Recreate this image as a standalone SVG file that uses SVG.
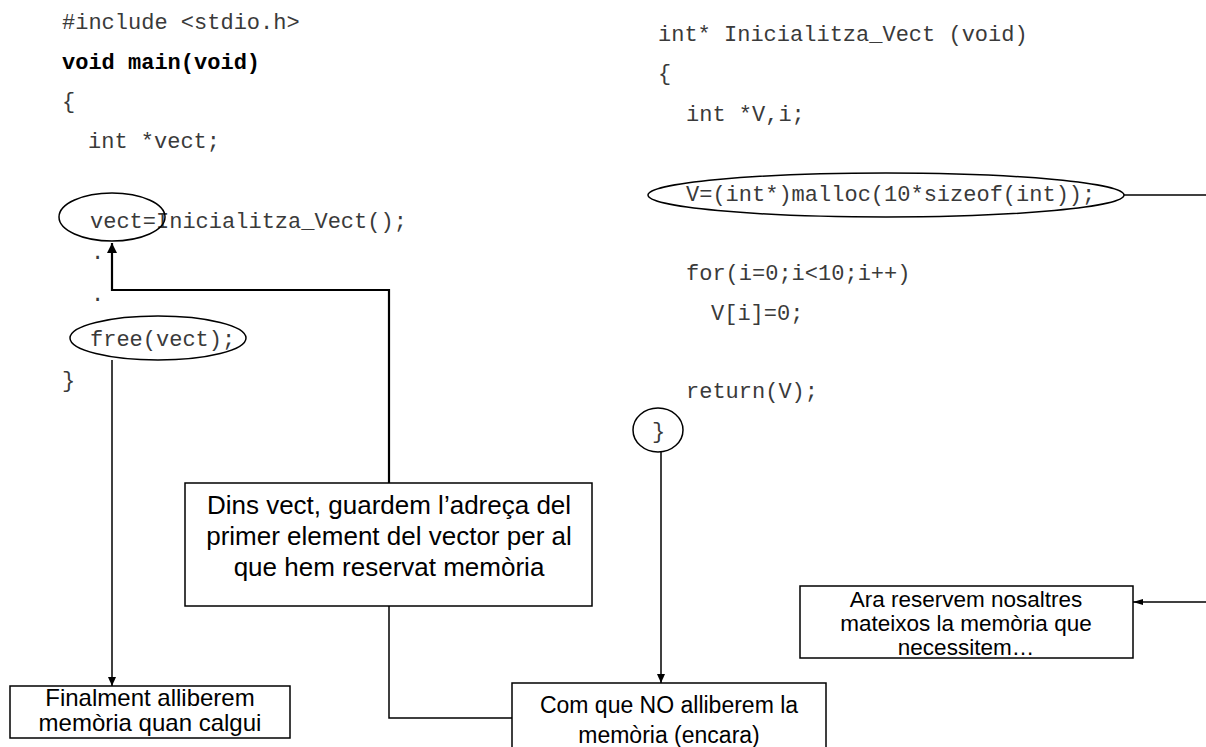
<svg xmlns="http://www.w3.org/2000/svg" width="1206" height="747" viewBox="0 0 1206 747">
<style>
.code{font-family:"Liberation Mono","Courier New",monospace;font-size:22px;fill:#3a3a3a}
.bold{font-weight:bold;fill:#000}
.box{fill:#fff;stroke:#000;stroke-width:1.5}
.lbl{font-family:"Liberation Sans",Arial,sans-serif;fill:#000;text-anchor:middle}
.ell{fill:none;stroke:#000;stroke-width:1.5}
.conn{fill:none;stroke:#000;stroke-width:1.5}
.thick{stroke-width:2.2}
</style>
<defs>
<marker id="arr" markerUnits="userSpaceOnUse" markerWidth="10" markerHeight="10" refX="9" refY="4" orient="auto"><path d="M0,0 L9,4 L0,8 z" fill="#000"/></marker>
<marker id="arrBig" markerUnits="userSpaceOnUse" markerWidth="12" markerHeight="12" refX="10" refY="5" orient="auto"><path d="M0,0 L10,5 L0,10 z" fill="#000"/></marker>
<marker id="arrSmall" markerUnits="userSpaceOnUse" markerWidth="12" markerHeight="8" refX="10" refY="3" orient="auto"><path d="M0,0 L10,3 L0,6 z" fill="#000"/></marker>
</defs>
<rect width="1206" height="747" fill="#fff"/>

<g id="main-code">
<text class="code" x="62" y="29">#include &lt;stdio.h&gt;</text>
<text class="code bold" x="62" y="69">void main(void)</text>
<text class="code" x="62" y="108">{</text>
<text class="code" x="88" y="148">int *vect;</text>
<text class="code" x="90" y="228">vect=Inicialitza_Vect();</text>
<text class="code" x="91" y="259">.</text>
<text class="code" x="91" y="301">.</text>
<text class="code" x="90" y="346">free(vect);</text>
<text class="code" x="62" y="387">}</text>
</g>

<g id="func-code">
<text class="code" x="658" y="41">int* Inicialitza_Vect (void)</text>
<text class="code" x="658" y="80">{</text>
<text class="code" x="686" y="121">int *V,i;</text>
<text class="code" x="686" y="201">V=(int*)malloc(10*sizeof(int));</text>
<text class="code" x="686" y="280">for(i=0;i&lt;10;i++)</text>
<text class="code" x="711" y="320">V[i]=0;</text>
<text class="code" x="686" y="398">return(V);</text>
<text class="code" x="652" y="438">}</text>
</g>

<g id="ell-vect"><ellipse class="ell" cx="112" cy="217" rx="53" ry="24"/></g>
<g id="ell-free"><ellipse class="ell" cx="158" cy="338" rx="88" ry="22"/></g>
<g id="ell-malloc"><ellipse class="ell" cx="886" cy="195" rx="238" ry="22"/></g>
<g id="ell-brace"><ellipse class="ell" cx="658" cy="430" rx="25" ry="22"/></g>

<g id="connectors">
<path class="conn" d="M112,360 V686" marker-end="url(#arr)"/>
<path class="conn thick" d="M389,483 V290 H112 V243" marker-end="url(#arrBig)"/>
<path class="conn" d="M389,606 V718 H512"/>
<path class="conn" d="M661,452 V683" marker-end="url(#arr)"/>
<path class="conn" d="M1124,195 H1206"/>
<path class="conn" d="M1206,602 H1133" marker-end="url(#arrSmall)"/>
</g>

<g id="box-finalment">
<rect class="box" x="10" y="686" width="280" height="52"/>
<text class="lbl" x="150" y="706" font-size="24">Finalment alliberem</text>
<text class="lbl" x="150" y="731" font-size="24">memòria quan calgui</text>
</g>

<g id="box-dins">
<rect class="box" x="185" y="483" width="407" height="123"/>
<text class="lbl" x="389" y="514" font-size="26">Dins vect, guardem l’adreça del</text>
<text class="lbl" x="389" y="545" font-size="26">primer element del vector per al</text>
<text class="lbl" x="389" y="576" font-size="26">que hem reservat memòria</text>
</g>

<g id="box-com-que">
<rect class="box" x="512" y="683" width="314" height="80"/>
<text class="lbl" x="669" y="713" font-size="23">Com que NO alliberem la</text>
<text class="lbl" x="669" y="743" font-size="23">memòria (encara)</text>
</g>

<g id="box-ara">
<rect class="box" x="800" y="586" width="333" height="72"/>
<text class="lbl" x="966" y="607" font-size="22.5">Ara reservem nosaltres</text>
<text class="lbl" x="966" y="631" font-size="22.5">mateixos la memòria que</text>
<text class="lbl" x="966" y="655" font-size="22.5">necessitem…</text>
</g>
</svg>
